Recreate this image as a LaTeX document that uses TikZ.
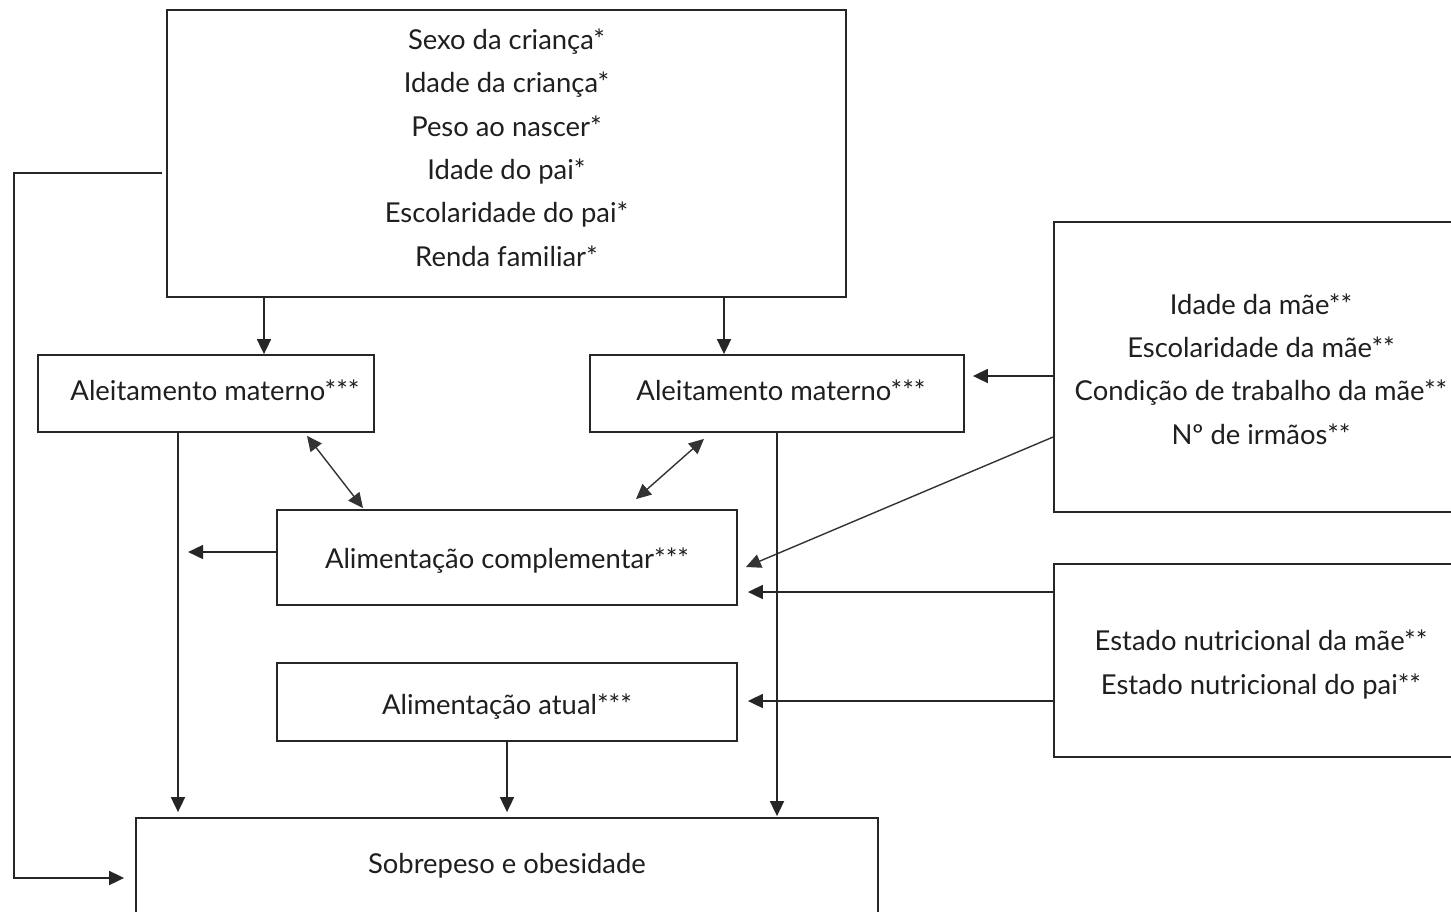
\documentclass[tikz,border=0pt]{standalone}
\usepackage{fontspec}
\setmainfont{Lato}
\usetikzlibrary{arrows.meta,calc}
\begin{document}
\begin{tikzpicture}[x=0.5pt,y=-0.5pt,
  box/.style={draw=black!85,line width=0.9pt,rectangle,inner sep=0pt},
  txt/.style={align=center,inner sep=0pt,font=\fontsize{13.7}{21.7}\selectfont,text=black!88},
  arr/.style={draw=black!85,line width=0.9pt,-{Triangle[length=7.5pt,width=7pt]}},
  darr/.style={draw=black!80,line width=0.7pt,{Triangle[length=7.5pt,width=7pt]}-{Triangle[length=7.5pt,width=7pt]}},
  thinarr/.style={draw=black!80,line width=0.7pt,-{Triangle[length=7.5pt,width=7pt]}}]
\useasboundingbox (0,0) rectangle (1451,911);
\clip (0,0) rectangle (1451,911);
\fill[white] (0,0) rectangle (1451,911);
\node[box,minimum width=339.5pt,minimum height=143.5pt,
  label={[txt,yshift=3pt]center:{Sexo da criança*\\Idade da criança*\\Peso ao nascer*\\Idade do pai*\\Escolaridade do pai*\\Renda familiar*}}] (top) at (506.5,153.5) {};
\node[box,minimum width=168pt,minimum height=38.5pt,
  label={[txt,yshift=1.5pt,xshift=4.5pt]center:{Aleitamento materno***}}] (AL) at (206,393.5) {};
\node[box,minimum width=187pt,minimum height=38.5pt,
  label={[txt,yshift=1.5pt,xshift=2pt]center:{Aleitamento materno***}}] (AR) at (777,393.5) {};
\node[box,minimum width=230pt,minimum height=47.5pt,
  label={[txt,yshift=-1.5pt]center:{Alimentação complementar***}}] (AC) at (507,557.5) {};
\node[box,minimum width=230pt,minimum height=39pt,
  label={[txt,yshift=-2.5pt]center:{Alimentação atual***}}] (AA) at (507,702) {};
\node[box,minimum width=371pt,minimum height=48pt,
  label={[txt]center:{Sobrepeso e obesidade}}] (SO) at (507,866) {};
\node[box,minimum width=203pt,minimum height=145pt,
  label={[txt,yshift=-1pt,xshift=2pt]center:{Idade da mãe**\\Escolaridade da mãe**\\Condição de trabalho da mãe**\\Nº de irmãos**}}] (R1) at (1257,367) {};
\node[box,minimum width=203pt,minimum height=96.5pt,
  label={[txt,yshift=-2pt,xshift=2pt]center:{Estado nutricional da mãe**\\Estado nutricional do pai**}}] (R2) at (1257,660.5) {};
% arrows
\draw[arr] ($(top.south)+(-242.5,0)$) -- ($(AL.north)+(58,0)$);
\draw[arr] ($(top.south)+(217.5,0)$) -- ($(AR.north)+(-53,0)$);
\draw[arr] ($(R1.west)+(0,9)$) -- ($(AR.east)+(8,-17.5)$);
\draw[thinarr] ($(R1.west)+(0,70)$) -- ($(AC.east)+(8,9.5)$);
\draw[arr] ($(R2.west)+(0,-68.5)$) -- ($(AC.east)+(10,34.5)$);
\draw[arr] ($(R2.west)+(0,40.5)$) -- ($(AA.east)+(10,-1)$);
\draw[arr] ($(AL.south)+(-28,0)$) -- ($(SO.north)+(-329,-5)$);
\draw[arr] ($(AC.west)+(0,-5.5)$) -- ($(AC.west)+(-88,-5.5)$);
\draw[darr] ($(AL.south)+(101,3)$) -- ($(AC.north)+(-144,-1)$);
\draw[darr] ($(AR.south)+(-73,6)$) -- ($(AC.north)+(129,-10)$);
\draw[arr] (AR.south) -- ($(SO.north)+(270,-1)$);
\draw[arr] (AA.south) -- ($(SO.north)+(0,-5)$);
\draw[arr] ($(top.west)+(-4,19.5)$) -- ++(-148,0) |- ($(SO.west)+(-11,12)$);
\end{tikzpicture}
\end{document}
